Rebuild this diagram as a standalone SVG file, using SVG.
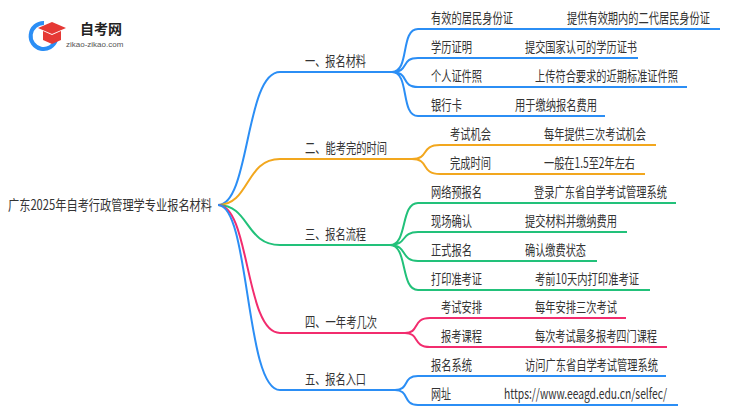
<svg xmlns="http://www.w3.org/2000/svg" width="750" height="410" viewBox="0 0 750 410">
<style>
text{font-family:"Noto Sans CJK SC","Liberation Sans",sans-serif;font-size:14px;fill:#333}
.c path{fill:none;stroke-width:2}
.b{stroke:#2b8ef5}.o{stroke:#f2a71e}.g{stroke:#22c17a}.p{stroke:#f22c6e}
</style>
<rect width="750" height="410" fill="#fff"/>
<g id="logo">
<path d="M44 23 A13 13 0 1 0 56 40" fill="none" stroke="#2b8ef5" stroke-width="4"/>
<path d="M38 28 L52 22 L66 28 L52 34Z" fill="#e53935"/>
<path d="M43 31 L43 40 L52 44 L61 40 L61 31 L52 35Z" fill="#e53935"/>
<text x="80" y="34" style="font-size:14px;font-weight:bold;fill:#222">自考网</text>
<text x="66" y="47" style="font-size:8px;fill:#555;font-family:'Liberation Sans',sans-serif">zikao-zikao.com</text>
</g>
<g class="c" id="connectors">
<path class="b" d="M218 205 C250 205 245 72 280 72 H392"/>
<path class="o" d="M218 205 C250 205 245 159 280 159 H412"/>
<path class="g" d="M218 205 C250 205 245 245 280 245 H390"/>
<path class="p" d="M218 205 C250 205 245 333 280 333 H405"/>
<path class="b" d="M218 205 C250 205 245 390 280 390 H395"/>
<path class="b" d="M392 72 C410 72 400 29 418 29 H720 M392 72 C410 72 400 58 418 58 H638 M392 72 C410 72 400 87 418 87 H687 M392 72 C410 72 400 116 418 116 H605"/>
<path class="o" d="M412 159 C430 159 420 145 440 145 H656 M412 159 C430 159 420 174 440 174 H645"/>
<path class="g" d="M390 245 C408 245 400 203 418 203 H676 M390 245 C408 245 400 232 418 232 H627 M390 245 C408 245 400 261 418 261 H597 M390 245 C408 245 400 290 418 290 H650"/>
<path class="p" d="M405 333 C420 333 412 318 430 318 H626 M405 333 C420 333 412 347 430 347 H667"/>
<path class="b" d="M395 390 C410 390 402 376 418 376 H666 M395 390 C410 390 402 405 418 405 H678"/>
</g>
<g id="root"><text x="8" y="210" textLength="204" lengthAdjust="spacingAndGlyphs">广东2025年自考行政管理学专业报名材料</text></g>
<g id="n1"><text x="305" y="66" textLength="61" lengthAdjust="spacingAndGlyphs">一、报名材料</text>
<text x="431" y="23" textLength="82" lengthAdjust="spacingAndGlyphs">有效的居民身份证</text><text x="567" y="23" textLength="143" lengthAdjust="spacingAndGlyphs">提供有效期内的二代居民身份证</text>
<text x="431" y="52" textLength="41" lengthAdjust="spacingAndGlyphs">学历证明</text><text x="525" y="52" textLength="112" lengthAdjust="spacingAndGlyphs">提交国家认可的学历证书</text>
<text x="431" y="81" textLength="51" lengthAdjust="spacingAndGlyphs">个人证件照</text><text x="535" y="81" textLength="143" lengthAdjust="spacingAndGlyphs">上传符合要求的近期标准证件照</text>
<text x="431" y="110" textLength="31" lengthAdjust="spacingAndGlyphs">银行卡</text><text x="515" y="110" textLength="82" lengthAdjust="spacingAndGlyphs">用于缴纳报名费用</text></g>
<g id="n2"><text x="305" y="153" textLength="82" lengthAdjust="spacingAndGlyphs">二、能考完的时间</text>
<text x="450" y="139" textLength="41" lengthAdjust="spacingAndGlyphs">考试机会</text><text x="544" y="139" textLength="102" lengthAdjust="spacingAndGlyphs">每年提供三次考试机会</text>
<text x="450" y="168" textLength="41" lengthAdjust="spacingAndGlyphs">完成时间</text><text x="544" y="168" textLength="91" lengthAdjust="spacingAndGlyphs">一般在1.5至2年左右</text></g>
<g id="n3"><text x="305" y="239" textLength="61" lengthAdjust="spacingAndGlyphs">三、报名流程</text>
<text x="431" y="197" textLength="51" lengthAdjust="spacingAndGlyphs">网络预报名</text><text x="534" y="197" textLength="133" lengthAdjust="spacingAndGlyphs">登录广东省自学考试管理系统</text>
<text x="431" y="226" textLength="41" lengthAdjust="spacingAndGlyphs">现场确认</text><text x="525" y="226" textLength="92" lengthAdjust="spacingAndGlyphs">提交材料并缴纳费用</text>
<text x="431" y="255" textLength="41" lengthAdjust="spacingAndGlyphs">正式报名</text><text x="525" y="255" textLength="61" lengthAdjust="spacingAndGlyphs">确认缴费状态</text>
<text x="431" y="284" textLength="51" lengthAdjust="spacingAndGlyphs">打印准考证</text><text x="535" y="284" textLength="104" lengthAdjust="spacingAndGlyphs">考前10天内打印准考证</text></g>
<g id="n4"><text x="305" y="327" textLength="72" lengthAdjust="spacingAndGlyphs">四、一年考几次</text>
<text x="441" y="312" textLength="41" lengthAdjust="spacingAndGlyphs">考试安排</text><text x="535" y="312" textLength="82" lengthAdjust="spacingAndGlyphs">每年安排三次考试</text>
<text x="441" y="341" textLength="41" lengthAdjust="spacingAndGlyphs">报考课程</text><text x="535" y="341" textLength="122" lengthAdjust="spacingAndGlyphs">每次考试最多报考四门课程</text></g>
<g id="n5"><text x="305" y="384" textLength="61" lengthAdjust="spacingAndGlyphs">五、报名入口</text>
<text x="431" y="370" textLength="41" lengthAdjust="spacingAndGlyphs">报名系统</text><text x="525" y="370" textLength="133" lengthAdjust="spacingAndGlyphs">访问广东省自学考试管理系统</text>
<text x="431" y="399" textLength="20" lengthAdjust="spacingAndGlyphs">网址</text><text x="504" y="399" textLength="163" lengthAdjust="spacingAndGlyphs">https://www.eeagd.edu.cn/selfec/</text></g>
</svg>
